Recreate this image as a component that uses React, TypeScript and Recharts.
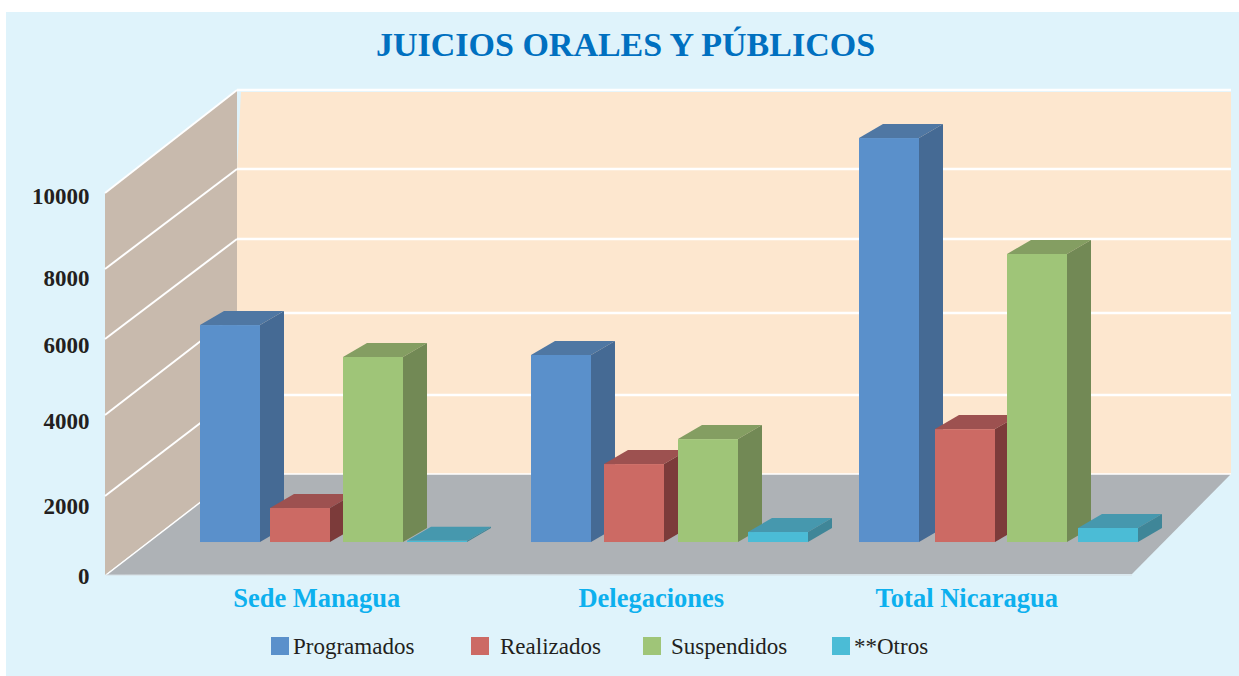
import { Bar, BarChart, Customized, Legend, Line, XAxis, YAxis } from "recharts";

const categories = ["Sede Managua", "Delegaciones", "Total Nicaragua"];
const programados = [5650, 4870, 10520];
const realizados = [885, 2030, 2940];
const suspendidos = [4818, 2680, 7500];
const otros = [30, 260, 365];
const yTicks = [0, 2000, 4000, 6000, 8000, 10000];

const rows = categories.map((name, i) => ({
  name,
  programados: programados[i],
  realizados: realizados[i],
  suspendidos: suspendidos[i],
  otros: otros[i],
}));

// the source chart is hand laid out, so its labels and bars do not sit on a regular step
const tickShift = [1, 9, 1, 2, 12, 7];
const categoryShift = [-23, -18, -32];
const barShift = [
  [0, -3, -3, -12],
  [1.5, 1.5, 2.5, -0.5],
  [0, 3, 2, 0],
];

const backGrid = [474, 395, 313, 239, 169, 90];
const frontGrid = [575, 496, 415, 339, 269, 193];

const TITLE_FONT = "'Liberation Serif', serif";
const DEPTH_X = 24;
const DEPTH_Y = 14;
const Y_LABEL_X = 89.5;

const poly = (pts: number[][]) => pts.map((p) => p.join(",")).join(" ");

function Walls() {
  return (
    <g>
      <polygon points={poly([[241, 92], [1231, 92], [1231, 474], [237, 474], [237, 169]])} fill="#fde7cf" />
      <polygon points={poly([[105, 193], [237, 90], [237, 474], [105, 575]])} fill="#c8baad" />
      <polygon points={poly([[106, 575], [237, 474], [1231, 474], [1132, 574]])} fill="#aeb2b6" />
      {backGrid.map((y, i) => (
        <g key={y}>
          {i > 0 && <line x1={105} y1={frontGrid[i]} x2={237} y2={y} stroke="#fff" strokeWidth={2} />}
          <line x1={237} y1={y} x2={1231} y2={y} stroke="#fff" strokeWidth={i === 0 ? 1.5 : 2.5} />
        </g>
      ))}
      <line x1={106} y1={575} x2={237} y2={474} stroke="#fff" strokeWidth={1.5} />
      <line x1={106} y1={575} x2={1132} y2={575} stroke="#d5dde2" strokeWidth={1} />
    </g>
  );
}

function box(seriesIdx: number, side: string, top: string) {
  return function BoxShape(props: any) {
    const { y, width, height, fill, index } = props;
    const x = props.x + barShift[index][seriesIdx];
    const r = x + width;
    const b = y + height;
    return (
      <g>
        <polygon
          points={poly([[x, y], [r, y], [r + DEPTH_X, y - DEPTH_Y], [x + DEPTH_X, y - DEPTH_Y]])}
          fill={top}
        />
        <polygon
          points={poly([[r, y], [r + DEPTH_X, y - DEPTH_Y], [r + DEPTH_X, b - DEPTH_Y], [r, b]])}
          fill={side}
        />
        <rect x={x} y={y} width={width} height={height} fill={fill} />
      </g>
    );
  };
}

function YTick({ y, payload, index }: any) {
  return (
    <text
      x={Y_LABEL_X}
      y={y + tickShift[index]}
      textAnchor="end"
      dominantBaseline="central"
      fontFamily={TITLE_FONT}
      fontWeight={700}
      fontSize={23}
      fill="#231f20"
    >
      {payload.value}
    </text>
  );
}

function XTick({ x, y, payload, index }: any) {
  return (
    <text
      x={x + categoryShift[index]}
      y={y}
      textAnchor="middle"
      dominantBaseline="central"
      fontFamily={TITLE_FONT}
      fontWeight={700}
      fontSize={26.5}
      fill="#0db0ee"
    >
      {payload.value}
    </text>
  );
}

const legendSwatchX = [271, 471, 643, 832];
const legendTextX = [293, 500, 671, 854];

function LegendRow({ payload }: any) {
  const items = (payload ?? []).filter((item: any) => item.type !== "none");
  return (
    <div style={{ position: "relative", height: 0, width: 1239 }}>
      {items.map((item: any, i: number) => (
        <div key={item.value}>
          <span
            style={{
              position: "absolute",
              left: legendSwatchX[i],
              top: 637,
              width: 18,
              height: 18,
              background: item.color,
            }}
          />
          <span
            style={{
              position: "absolute",
              left: legendTextX[i],
              top: 633,
              lineHeight: "27px",
              fontFamily: TITLE_FONT,
              fontSize: 23,
              color: "#231f20",
              whiteSpace: "nowrap",
            }}
          >
            {item.value}
          </span>
        </div>
      ))}
    </div>
  );
}

export default function App() {
  return (
    <div style={{ position: "absolute", left: 0, top: 0, width: 1239, height: 676, background: "#fff", overflow: "hidden" }}>
      <div style={{ position: "absolute", left: 6, top: 12, width: 1233, height: 664, background: "#dff3fb" }} />
      <div
        style={{
          position: "absolute",
          left: 0,
          top: 21,
          width: 1251,
          textAlign: "center",
          fontFamily: TITLE_FONT,
          fontWeight: 700,
          fontSize: 34,
          lineHeight: "48px",
          color: "#0070c0",
        }}
      >
        JUICIOS ORALES Y PÚBLICOS
      </div>
      <div style={{ position: "absolute", left: 0, top: 0 }}>
        <BarChart
          width={1239}
          height={676}
          data={rows}
          margin={{ top: 90, right: 75.5, bottom: 61, left: 0 }}
          barSize={60}
          barGap={13}
        >
          <Customized component={Walls} />
          <XAxis
            dataKey="name"
            axisLine={false}
            tickLine={false}
            tick={<XTick />}
            tickMargin={17}
            interval={0}
            height={40}
          />
          <YAxis
            yAxisId="labels"
            width={175}
            domain={[0, 12597]}
            ticks={yTicks}
            interval={0}
            axisLine={false}
            tickLine={false}
            tick={<YTick />}
          />
          <YAxis yAxisId="bars" hide domain={[-859, 11771]} />
          <Legend
            content={<LegendRow />}
            itemSorter={null}
            wrapperStyle={{ left: 0, top: 0, width: 1239, height: 0 }}
          />
          {/* draws nothing, it only keeps the label axis attached to a series */}
          <Line
            yAxisId="labels"
            dataKey={(row: any) => row.otros}
            stroke="none"
            dot={false}
            activeDot={false}
            legendType="none"
            isAnimationActive={false}
          />
          <Bar yAxisId="bars" dataKey="programados" name="Programados" fill="#5a90cb" isAnimationActive={false} shape={box(0, "#456a94", "#4f77a3")} />
          <Bar yAxisId="bars" dataKey="realizados" name="Realizados" fill="#cc6a64" isAnimationActive={false} shape={box(1, "#7c3b3a", "#9d5150")} />
          <Bar yAxisId="bars" dataKey="suspendidos" name="Suspendidos" fill="#9fc578" isAnimationActive={false} shape={box(2, "#728955", "#849e62")} />
          <Bar yAxisId="bars" dataKey="otros" name="**Otros" fill="#4bbcd6" isAnimationActive={false} shape={box(3, "#3f8698", "#4698ae")} />
        </BarChart>
      </div>
    </div>
  );
}
